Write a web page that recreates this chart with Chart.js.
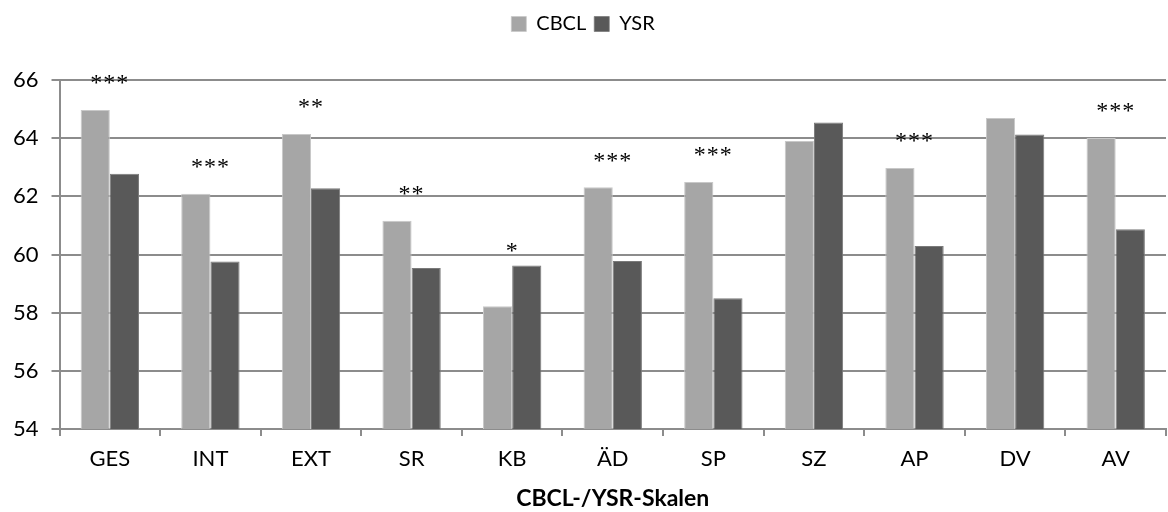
<!DOCTYPE html>
<html><head><meta charset="utf-8">
<script src="https://cdn.jsdelivr.net/npm/chart.js@4"></script>
<style>html,body{margin:0;padding:0;background:#fff}#w{width:1168px;height:512px}</style>
</head><body><div id="w"><canvas id="c"></canvas></div>
<script>
const categories = ["GES","INT","EXT","SR","KB","ÄD","SP","SZ","AP","DV","AV"];
const cbcl = [64.97,62.09,64.14,61.16,58.22,62.31,62.49,63.9,62.97,64.69,64.01];
const ysr  = [62.78,59.76,62.28,59.54,59.62,59.78,58.5,64.54,60.29,64.13,60.87];
const significance = ["***","***","**","**","*","***","***","","***","","***"];
const yTicks = [54,56,58,60,62,64,66];
const xTitle = "CBCL-/YSR-Skalen";

const FONT = "Lato, 'Open Sans', sans-serif";
const sigPlugin = {
  id:'sig',
  afterDatasetsDraw(chart){
    const ctx = chart.ctx;
    const m0 = chart.getDatasetMeta(0), m1 = chart.getDatasetMeta(1);
    const xs = chart.scales.x;
    ctx.save();
    ctx.font = "24px 'Liberation Serif', serif";
    ctx.fillStyle = "#000";
    ctx.textAlign = "center";
    ctx.textBaseline = "middle";
    try{ ctx.letterSpacing = "1px"; }catch(e){}
    significance.forEach((s,i)=>{
      if(!s) return;
      const top = Math.min(m0.data[i].y, s.length===1 ? m1.data[i].y+12 : m0.data[i].y);
      ctx.fillText(s, xs.getPixelForValue(i), top - 26);
    });
    ctx.restore();
  }
};
const legendGap = {
  id:'legendGap',
  beforeInit(chart){
    const fit = chart.legend.fit;
    chart.legend.fit = function(){ fit.bind(chart.legend)(); this.height += 36; };
  }
};

new Chart(document.getElementById('c'), {
  type:'bar',
  data:{
    labels:categories,
    datasets:[
      {label:"CBCL", data:cbcl, backgroundColor:"#a6a6a6", borderColor:"#c8c8c8", borderWidth:{top:1,left:1,right:1,bottom:0}, barPercentage:1, categoryPercentage:0.58},
      {label:"YSR", data:ysr, backgroundColor:"#595959", borderColor:"#7a7a7a", borderWidth:{top:1,left:1,right:1,bottom:0}, barPercentage:1, categoryPercentage:0.58}
    ]
  },
  options:{
    responsive:true, maintainAspectRatio:false, animation:false,
    layout:{padding:{left:0,right:2,top:6,bottom:0}},
    plugins:{
      legend:{position:'top', labels:{boxWidth:15, boxHeight:15, color:"#000", font:{family:FONT,size:20}, padding:8}},
      tooltip:{enabled:false}
    },
    scales:{
      x:{
        grid:{display:true, offset:true, drawOnChartArea:false, color:"#8c8c8c", lineWidth:2, tickLength:7},
        border:{color:"#8c8c8c", width:2},
        ticks:{color:"#000", font:{family:FONT,size:22}, padding:10},
        title:{display:true, text:xTitle, color:"#000", font:{family:FONT,size:23,weight:'bold'}, padding:{top:2,bottom:0}}
      },
      y:{
        min:54, max:66,
        afterBuildTicks(ax){ ax.ticks = yTicks.map(v=>({value:v})); },
        grid:{color:"#8c8c8c", lineWidth:2, tickLength:8},
        border:{color:"#8c8c8c", width:2},
        ticks:{color:"#000", font:{family:FONT,size:22}, padding:13}
      }
    }
  },
  plugins:[sigPlugin, legendGap]
});
</script></body></html>
